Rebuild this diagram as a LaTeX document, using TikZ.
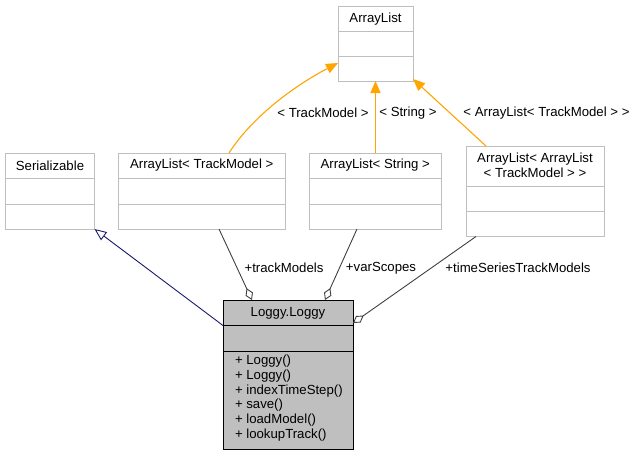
\documentclass[tikz,border=0pt]{standalone}
\usepackage{fontspec}
\setmainfont{Liberation Sans}
\usetikzlibrary{arrows.meta,calc}
\definecolor{boxgrey}{HTML}{BFBFBF}
\definecolor{linkgrey}{HTML}{404040}
\definecolor{inhblue}{HTML}{191970}
\definecolor{tmplorange}{HTML}{FFA500}
\begin{document}
\begin{tikzpicture}[x=1pt,y=-1pt,
  every node/.style={font=\fontsize{13.2}{14.8}\selectfont, inner sep=0pt, outer sep=0pt},
  cls/.style={draw=boxgrey, line width=1pt, fill=white, anchor=north west, rectangle},
  main/.style={draw=black, line width=1pt, fill=boxgrey, anchor=north west, rectangle},
  sepg/.style={draw=boxgrey, line width=1pt},
  sepb/.style={draw=black, line width=1pt},
  txt/.style={anchor=center},
  lbl/.style={anchor=center},
  tmpl/.style={draw=tmplorange, line width=1.1pt, -{Triangle[length=12pt,width=10pt,fill=tmplorange]}},
  uses/.style={draw=linkgrey, line width=0.9pt, -{Diamond[open,length=13pt,width=8pt,fill=white]}},
  inh/.style={draw=inhblue, line width=0.9pt, -{Triangle[open,length=12pt,width=10pt,fill=white]}}
]
\useasboundingbox (0,0) rectangle (638,456);

% ArrayList
\node[cls, minimum width=75pt, minimum height=75pt] (al) at (338,6) {};
\draw[sepg] (338,31.5) -- (413,31.5);
\draw[sepg] (338,56.5) -- (413,56.5);
\node[txt] (alt) at (375.5,19) {ArrayList};

% Serializable
\node[cls, minimum width=89pt, minimum height=76pt] (ser) at (5.5,153) {};
\draw[sepg] (5.5,178.5) -- (94.5,178.5);
\draw[sepg] (5.5,204) -- (94.5,204);
\node[txt] (sert) at (50,165.5) {Serializable};

% ArrayList< TrackModel >
\node[cls, minimum width=166.5pt, minimum height=76pt] (altm) at (118.5,153) {};
\draw[sepg] (118.5,178.5) -- (285,178.5);
\draw[sepg] (118.5,204) -- (285,204);
\node[txt] (altmt) at (201.75,165.5) {ArrayList< TrackModel >};

% ArrayList< String >
\node[cls, minimum width=131.5pt, minimum height=76pt] (als) at (309.5,153) {};
\draw[sepg] (309.5,178.5) -- (441,178.5);
\draw[sepg] (309.5,204) -- (441,204);
\node[txt] (alst) at (375.25,165.5) {ArrayList< String >};

% ArrayList< ArrayList< TrackModel > >
\node[cls, minimum width=138pt, minimum height=90.5pt] (alal) at (466,146) {};
\draw[sepg] (466,186) -- (604,186);
\draw[sepg] (466,211) -- (604,211);
\node[txt, align=center] (alalt) at (535,165.5) {ArrayList< ArrayList\\< TrackModel > >};

% Loggy.Loggy
\node[main, minimum width=130pt, minimum height=149pt] (lg) at (223,300) {};
\draw[sepb] (223,325.5) -- (353,325.5);
\draw[sepb] (223,351) -- (353,351);
\node[txt] (lgt) at (288,313) {Loggy.Loggy};
\node[anchor=north west, align=left] (lgm) at (235,355) {+ Loggy()\\+ Loggy()\\+ indexTimeStep()\\+ save()\\+ loadModel()\\+ lookupTrack()};

% template instantiation arrows
\draw[tmpl] ([xshift=110.5pt]altm.north west) .. controls (250,120) and (290,88) .. ([yshift=18pt]al.south west);
\draw[tmpl, line width=1.3pt] ([xshift=66pt]als.north west) -- (al.south);
\draw[tmpl] ([xshift=20pt]alal.north west) -- ([yshift=2pt]al.south east);
\node[lbl] (l1) at (323,113) {< TrackModel >};
\node[lbl] (l2) at (408,113) {< String >};
\node[lbl] (l3) at (546.5,113) {< ArrayList< TrackModel > >};

% inheritance
\draw[inh] ([yshift=-25.5pt]lg.north west) -- (ser.south east);

% usage
\draw[uses] ([xshift=100.5pt]altm.south west) -- ([xshift=29pt]lg.north west);
\draw[uses] ([xshift=47.5pt]als.south west) -- ([xshift=102pt]lg.north west);
\draw[uses] ([xshift=10pt]alal.south west) -- ([yshift=-23pt]lg.north east);
\node[lbl] (u1) at (284,268) {+trackModels};
\node[lbl] (u2) at (381,268) {+varScopes};
\node[lbl] (u3) at (518,268) {+timeSeriesTrackModels};
\end{tikzpicture}
\end{document}
